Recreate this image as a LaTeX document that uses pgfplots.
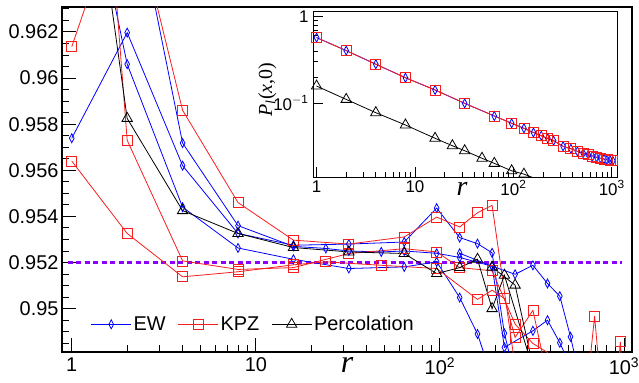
\documentclass[border=0pt]{standalone}
\usepackage{fontspec}
\setmainfont{Liberation Sans}
\newfontfamily\serifit{Liberation Serif}
\usepackage{pgfplots}
\pgfplotsset{compat=1.18}
\definecolor{ewblue}{RGB}{0,0,255}
\definecolor{kpzred}{RGB}{245,30,30}
\definecolor{dashviolet}{RGB}{140,0,255}
\pgfplotsset{
  ew/.style={ewblue, line width=0.8bp, mark=diamond, mark size=4.5bp, mark options={xscale=0.7, solid, fill=none}},
  kpz/.style={kpzred, line width=0.8bp, mark=square, mark size=5bp, mark options={solid, fill=none}},
  perc/.style={black, line width=0.8bp, mark=triangle, mark size=6bp, mark options={solid, fill=none}},
}
\begin{document}
\begin{tikzpicture}[x=1bp,y=1bp]
\path[use as bounding box] (0,0) rectangle (639,382);
\begin{axis}[
  at={(62bp,30bp)}, anchor=south west,
  scale only axis, width=570bp, height=345bp,
  xmode=log, xmin=0.885, xmax=1105, ymin=0.94812, ymax=0.96308,
  xtick={1,10,100,1000}, xticklabels={1,10,10\textsuperscript{2},10\textsuperscript{3}},
  minor xtick={2,3,4,5,6,7,8,9,20,30,40,50,60,70,80,90,200,300,400,500,600,700,800,900},
  ytick={0.95,0.952,0.954,0.956,0.958,0.96,0.962},
  yticklabels={0.95,0.952,0.954,0.956,0.958,0.96,0.962},
  minor ytick={0.9485,0.949,0.9495,0.9505,0.951,0.9515,0.9525,0.953,0.9535,0.9545,0.955,0.9555,0.9565,0.957,0.9575,0.9585,0.959,0.9595,0.9605,0.961,0.9615,0.9625,0.963},
  tick pos=left, tick align=inside,
  major tick length=14bp, minor tick length=7bp,
  every tick/.style={black, line width=0.9bp},
  axis line style={line width=1.1bp},
  tick label style={font=\fontsize{20}{22}\selectfont},
  xticklabel style={yshift=-2bp},
  xlabel={\serifit\itshape r},
  xlabel style={at={(axis description cs:0.5,0)}, anchor=base, yshift=-20bp, font=\fontsize{32}{34}\selectfont},
  legend style={at={(0.045,0.045)}, anchor=south west, draw=none, fill=none,
    font=\fontsize{20}{22}\selectfont, legend columns=3,
    /tikz/every even column/.append style={column sep=10bp}},
  legend image code/.code={\draw[mark repeat=2,mark phase=2] plot coordinates {(0bp,0bp)(20bp,0bp)(40bp,0bp)};},
  clip=true,
]
\addlegendimage{ew}\addlegendentry{EW}
\addlegendimage{kpz}\addlegendentry{KPZ}
\addlegendimage{perc}\addlegendentry{Percolation}

\addplot[dashviolet, line width=3bp, dash pattern=on 5bp off 3.5bp, forget plot] coordinates {(0.95,0.952)(980,0.952)};

% EW
\addplot[ew, forget plot] coordinates {(1,0.95739)(2,0.96197)(4,0.9562)(8,0.95326)(16,0.95275)(32,0.9528)(64,0.95289)(96,0.95436)(128,0.95308)(160,0.95282)(192,0.95242)(224,0.94893)(256,0.9470)};
\addplot[ew, forget plot] coordinates {(1,0.9721)(2,0.9606)(4,0.9544)(8,0.95263)(16,0.95214)(32,0.95174)(64,0.95181)(96,0.95203)(128,0.95048)(160,0.9489)(192,0.9470)};
\addplot[ew, forget plot] coordinates {(2,0.9691)(4,0.95718)(8,0.9536)(16,0.9527)(24,0.95261)(32,0.9525)(48,0.95246)(64,0.9525)(96,0.9524)(128,0.95222)(192,0.95184)(256,0.95149)(320,0.95188)(384,0.95109)(448,0.95054)(512,0.94878)(576,0.9470)};
\addplot[ew, forget plot] coordinates {(128,0.9524)(192,0.95184)(224,0.94832)(320,0.94904)(384,0.9495)(448,0.94852)(512,0.9475)};

% KPZ
\addplot[kpz, forget plot] coordinates {(1,0.96136)(2,0.9684)(4,0.9586)(8,0.9546)(16,0.95297)(32,0.9528)(64,0.95311)(96,0.95397)(128,0.95354)(160,0.95416)(192,0.95448)(256,0.9475)};
\addplot[kpz, forget plot] coordinates {(1,0.9886)(2,0.9573)(4,0.95207)(8,0.9517)(16,0.95178)(32,0.95239)(64,0.9526)(96,0.95246)(128,0.95178)(192,0.95164)(256,0.94933)(320,0.94849)(384,0.9481)(448,0.947)};
\addplot[kpz, forget plot] coordinates {(1,0.9564)(2,0.95326)(4,0.95138)(8,0.9516)(16,0.9519)(24,0.95203)(48,0.95188)(96,0.95174)(160,0.9504)(192,0.9508)(224,0.95044)(256,0.94875)(320,0.94993)(384,0.947)};
\addplot[kpz, forget plot] coordinates {(620,0.946)(692,0.94967)(760,0.946)(900,0.946)(955,0.94856)(1000,0.946)};

% Percolation
\addplot[perc, forget plot] coordinates {(1,0.9756)(2,0.95825)(4,0.95425)(8,0.95326)(16,0.95265)(32,0.95246)(64,0.95239)(96,0.95152)(128,0.95178)(160,0.95214)(192,0.950)(224,0.95145)(320,0.9474)};
\addplot[perc, forget plot] coordinates {(192,0.9518)(256,0.95102)(320,0.9475)};
\end{axis}

\begin{axis}[
  at={(313bp,205bp)}, anchor=south west,
  scale only axis, width=304bp, height=165bp,
  xmode=log, ymode=log,
  xmin=0.92, xmax=1130, ymin=0.0139, ymax=1.13,
  axis background/.style={fill=white},
  xtick={1,10,100,1000}, xticklabels={1,10,10\textsuperscript{2},10\textsuperscript{3}},
  ytick={0.1,1}, yticklabels={10\textsuperscript{$-$1},1},
  tick pos=left, tick align=inside,
  major tick length=10bp, minor tick length=5bp,
  every tick/.style={black, line width=0.8bp},
  axis line style={line width=1bp},
  tick label style={font=\fontsize{17}{19}\selectfont},
  yticklabel style={anchor=east, xshift=-1bp},
  xlabel={\serifit\itshape r},
  xlabel style={at={(axis description cs:0.49,0)}, anchor=base, yshift=-18bp, font=\fontsize{28}{30}\selectfont},
  ylabel={\serifit\itshape P\textsubscript{\itshape l}\upshape(\itshape x\upshape,0)},
  ylabel style={at={(axis description cs:-0.15,0.53)}, anchor=center, font=\fontsize{20}{22}\selectfont},
  clip=true,
]
\addplot[black, line width=0.8bp, mark=triangle, mark size=6bp, mark options={solid, fill=none}] coordinates {(1,0.157)(2,0.110)(4,0.0772)(8,0.0556)(16,0.039)(24,0.032)(32,0.028)(48,0.0229)(64,0.020)(96,0.0164)(128,0.0150)(160,0.0136)};
\addplot[ewblue, line width=0.8bp, mark=diamond, mark size=4.5bp, mark options={xscale=0.7, solid, fill=none}] coordinates {(1,0.571)(2,0.404)(4,0.281)(8,0.196)(16,0.1415)(32,0.099)(64,0.0707)(96,0.0582)(128,0.0509)(160,0.0455)(192,0.0417)(224,0.0389)(256,0.0366)(320,0.0315)(384,0.0295)(448,0.0275)(512,0.0262)(576,0.0252)(640,0.0243)(704,0.0235)(768,0.0229)(832,0.0224)(896,0.0220)(960,0.0217)(1024,0.0214)};
\addplot[kpzred, line width=0.8bp, mark=square, mark size=5bp, mark options={solid, fill=none}] coordinates {(1,0.571)(2,0.404)(4,0.281)(8,0.196)(16,0.1415)(32,0.099)(64,0.0707)(96,0.0582)(128,0.0509)(160,0.0455)(192,0.0417)(224,0.0389)(256,0.0366)(320,0.0315)(384,0.0295)(448,0.0275)(512,0.0262)(576,0.0252)(640,0.0243)(704,0.0235)(768,0.0229)(832,0.0224)(896,0.0220)(960,0.0217)(1024,0.0214)};
\end{axis}
\end{tikzpicture}
\end{document}
